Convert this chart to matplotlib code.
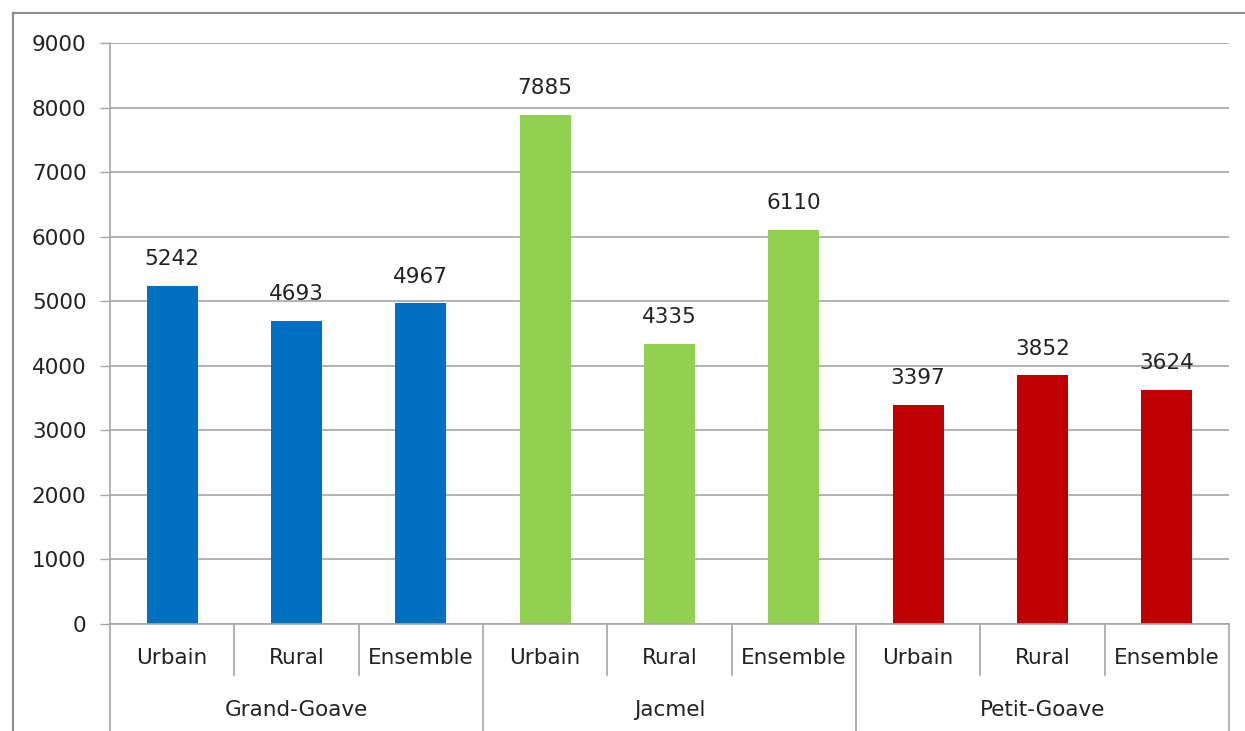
import matplotlib.pyplot as plt
from matplotlib.lines import Line2D
import matplotlib.transforms as mtransforms

# salaires moyens par commune et milieu
communes = ['Grand-Goave', 'Jacmel', 'Petit-Goave']
milieux = ['Urbain', 'Rural', 'Ensemble']
valeurs = [5242, 4693, 4967,   # Grand-Goave
           7885, 4335, 6110,   # Jacmel
           3397, 3852, 3624]   # Petit-Goave
couleurs = ['#0070C0', '#92D050', '#C00000']

plt.rcParams['font.family'] = 'DejaVu Sans'
fs = 15.5

fig = plt.figure(figsize=(12.45, 7.31), dpi=100)
ax = fig.add_axes([0.0884, 0.1464, 0.8987, 0.7948])

x = list(range(len(valeurs)))
cols = [couleurs[i // 3] for i in x]
ax.bar(x, valeurs, width=0.41, color=cols, zorder=3)

for xi, v in zip(x, valeurs):
    ax.annotate(str(v), (xi, v), xytext=(0, 12), textcoords='offset points',
                ha='center', va='bottom', fontsize=fs, color='#222222')

ax.set_xlim(-0.5, len(valeurs) - 0.5)
ax.set_ylim(0, 9000)
ax.set_yticks(range(0, 9001, 1000))
ax.yaxis.grid(True, color='#a6a6a6', lw=1.2, zorder=0)
ax.tick_params(axis='y', length=7, width=1, color='#a6a6a6', pad=10,
               labelsize=fs, labelcolor='#222222')
ax.set_xticks([])
for s in ['top', 'right', 'bottom']:
    ax.spines[s].set_visible(False)
ax.spines['left'].set_color('#a6a6a6')
ax.spines['left'].set_linewidth(1.2)

# axe des categories a deux niveaux
trans = mtransforms.blended_transform_factory(ax.transData, ax.transAxes)
ax.plot([-0.5, len(valeurs) - 0.5], [0, 0], transform=trans, color='#a6a6a6',
        lw=1.2, clip_on=False, zorder=4)
for b in range(len(valeurs) + 1):
    xb = b - 0.5
    bas = -0.19 if b % 3 == 0 else -0.088
    ax.plot([xb, xb], [0, bas], transform=trans, color='#a6a6a6', lw=1.2,
            clip_on=False)
for xi in x:
    ax.text(xi, -0.058, milieux[xi % 3], transform=trans, ha='center',
            va='center', fontsize=fs, color='#222222')
for g, nom in enumerate(communes):
    ax.text(3 * g + 1, -0.148, nom, transform=trans, ha='center',
            va='center', fontsize=fs, color='#222222')

# cadre exterieur
fig.add_artist(Line2D([0.0104, 1.0], [0.9822, 0.9822], transform=fig.transFigure,
                      color='#8c8c8c', lw=1.5))
fig.add_artist(Line2D([0.0104, 0.0104], [0.0, 0.9822], transform=fig.transFigure,
                      color='#8c8c8c', lw=1.5))

fig.savefig('out.png', dpi=100)
